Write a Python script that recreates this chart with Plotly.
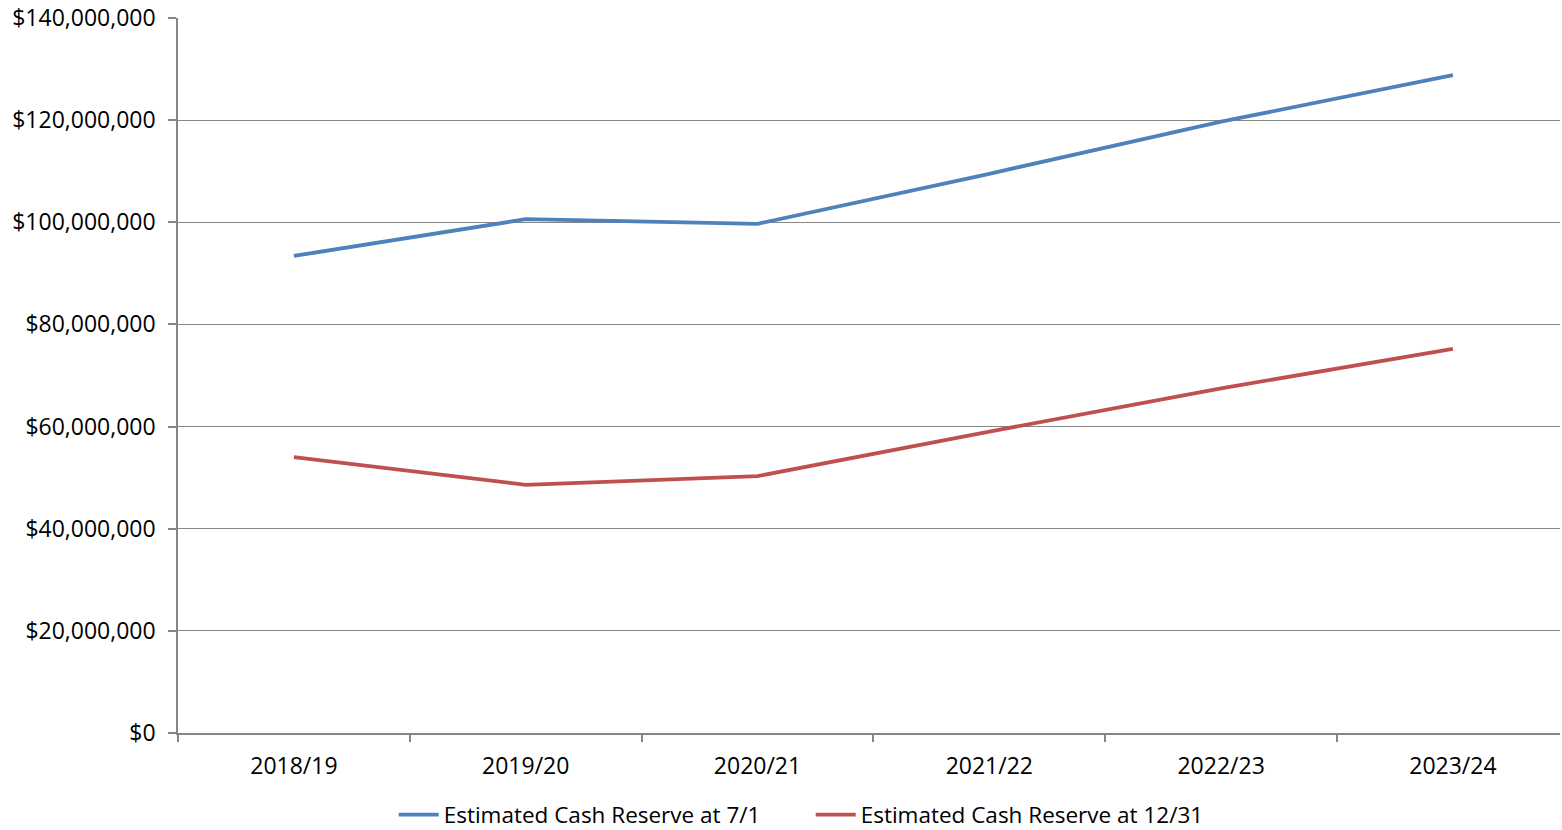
import plotly.graph_objects as go

# Fiscal years and estimated cash reserve balances (USD)
years = ["2018/19", "2019/20", "2020/21", "2021/22", "2022/23", "2023/24"]
reserve_jul1 = [93_400_000, 100_600_000, 99_700_000, 109_500_000, 119_700_000, 128_800_000]
reserve_dec31 = [54_000_000, 48_600_000, 50_300_000, 59_000_000, 67_500_000, 75_200_000]
y_ticks = [0, 20_000_000, 40_000_000, 60_000_000, 80_000_000, 100_000_000, 120_000_000, 140_000_000]

font_family = "Open Sans, Liberation Sans, sans-serif"
grid = "#868686"

fig = go.Figure()
fig.add_trace(go.Scatter(
    x=years, y=reserve_jul1, mode="lines",
    name="Estimated Cash Reserve at 7/1",
    line=dict(color="#4F81BD", width=3.8),
))
fig.add_trace(go.Scatter(
    x=years, y=reserve_dec31, mode="lines",
    name="Estimated Cash Reserve at 12/31",
    line=dict(color="#C0504D", width=3.8),
))

fig.update_layout(
    width=1562, height=830,
    margin=dict(l=178, r=2, t=18, b=97, autoexpand=False),
    paper_bgcolor="white", plot_bgcolor="white",
    font=dict(family=font_family, size=23, color="black"),
    showlegend=True,
    legend=dict(
        orientation="h",
        xref="container", x=0.519, xanchor="center",
        yref="paper", y=-0.1147, yanchor="middle",
        font=dict(size=22.5), itemwidth=40, entrywidth=362,
    ),
)
fig.update_xaxes(
    type="category", range=[-0.5, 5.462],
    showline=True, linecolor=grid, linewidth=1.5,
    ticks="outside", tickson="boundaries", ticklen=7, tickcolor=grid, tickwidth=1.5,
    showgrid=False, tickfont=dict(size=23),
    ticklabelstandoff=12,
)
fig.update_yaxes(
    range=[0, 140_000_000], tickvals=y_ticks,
    tickformat="$,.0f",
    showline=True, linecolor=grid, linewidth=1.5,
    ticks="outside", ticklen=8, tickcolor=grid, tickwidth=1.5,
    showgrid=True, gridcolor=grid, gridwidth=1,
    zeroline=False, tickfont=dict(size=23),
    ticklabelstandoff=8,
)

fig.write_html("out.html")
